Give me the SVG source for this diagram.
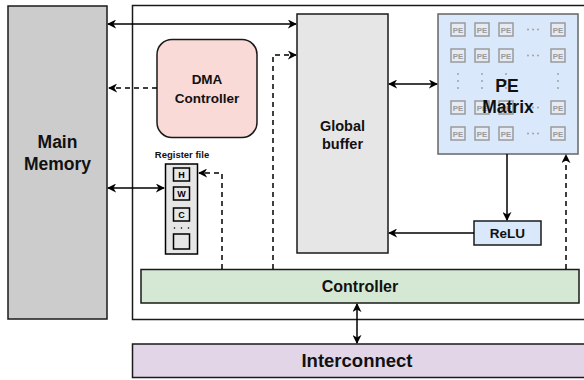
<svg xmlns="http://www.w3.org/2000/svg" width="584" height="380" viewBox="0 0 584 380">
  <defs>
    <marker id="arr" viewBox="0 0 10 10" refX="9" refY="5" markerWidth="9" markerHeight="9" markerUnits="userSpaceOnUse" orient="auto-start-reverse">
      <path d="M0,0 L10,5 L0,10 L3,5 Z" fill="#000"/>
    </marker>
    <style>
      .box { stroke: #1a1a1a; stroke-width: 1.5; }
      .lbl { font-family: "Liberation Sans", Arial, sans-serif; font-weight: bold; fill: #111; text-anchor: middle; }
      .wire { fill: none; stroke: #000; stroke-width: 1.5; }
      .dash { fill: none; stroke: #000; stroke-width: 1.5; stroke-dasharray: 5 4; }
      .pe rect { fill: #e4ebf5; stroke: #9a9a9a; stroke-width: 1.5; }
      .pe text { font-family: "Liberation Sans", Arial, sans-serif; font-weight: bold; font-size: 8px; fill: #9a9a9a; text-anchor: middle; }
      .dots { fill: #9a9a9a; }
      .reg rect { fill: #e6e6e6; stroke: #000; stroke-width: 1.5; }
      .reg text { font-family: "Liberation Sans", Arial, sans-serif; font-weight: bold; font-size: 9px; fill: #000; text-anchor: middle; }
    </style>
  </defs>
  <rect width="584" height="380" fill="#fff"/>

  <!-- accelerator enclosure -->
  <rect x="132.5" y="5.5" width="460" height="314" fill="#fff" class="box"/>

  <g id="main-memory">
    <rect x="8" y="6" width="99" height="313" fill="#cccccc" class="box"/>
    <text class="lbl" x="57.5" y="148" font-size="17.5">Main</text>
    <text class="lbl" x="57.5" y="170" font-size="17.5">Memory</text>
  </g>

  <g id="dma-controller">
    <rect x="157" y="39.5" width="100" height="98" rx="15" fill="#f9dad7" class="box"/>
    <text class="lbl" x="207" y="84" font-size="13.5">DMA</text>
    <text class="lbl" x="207" y="103" font-size="13.5">Controller</text>
  </g>

  <g id="global-buffer">
    <rect x="297" y="14" width="91" height="239" fill="#e6e6e6" class="box"/>
    <text class="lbl" x="342.5" y="131" font-size="14.5">Global</text>
    <text class="lbl" x="342.5" y="149" font-size="14.5">buffer</text>
  </g>

  <g id="pe-matrix">
    <rect x="438" y="14" width="140" height="140" fill="#dae8fc" stroke="#666" stroke-width="1.5"/>
    <g class="pe">
      <rect x="451" y="23" width="14" height="13"/><text x="458" y="32.5">PE</text>
      <rect x="475" y="23" width="14" height="13"/><text x="482" y="32.5">PE</text>
      <rect x="499" y="23" width="14" height="13"/><text x="506" y="32.5">PE</text>
      <rect x="551" y="23" width="14" height="13"/><text x="558" y="32.5">PE</text>
      <rect x="451" y="49" width="14" height="13"/><text x="458" y="58.5">PE</text>
      <rect x="475" y="49" width="14" height="13"/><text x="482" y="58.5">PE</text>
      <rect x="499" y="49" width="14" height="13"/><text x="506" y="58.5">PE</text>
      <rect x="551" y="49" width="14" height="13"/><text x="558" y="58.5">PE</text>
      <rect x="451" y="101" width="14" height="13"/><text x="458" y="110.5">PE</text>
      <rect x="475" y="101" width="14" height="13"/><text x="482" y="110.5">PE</text>
      <rect x="499" y="101" width="14" height="13"/><text x="506" y="110.5">PE</text>
      <rect x="551" y="101" width="14" height="13"/><text x="558" y="110.5">PE</text>
      <rect x="451" y="127" width="14" height="13"/><text x="458" y="136.5">PE</text>
      <rect x="475" y="127" width="14" height="13"/><text x="482" y="136.5">PE</text>
      <rect x="499" y="127" width="14" height="13"/><text x="506" y="136.5">PE</text>
      <rect x="551" y="127" width="14" height="13"/><text x="558" y="136.5">PE</text>
    </g>
    <!-- horizontal ellipses -->
    <g class="dots">
      <circle cx="528" cy="29.5" r="0.9"/><circle cx="533" cy="29.5" r="0.9"/><circle cx="538" cy="29.5" r="0.9"/>
      <circle cx="528" cy="55.5" r="0.9"/><circle cx="533" cy="55.5" r="0.9"/><circle cx="538" cy="55.5" r="0.9"/>
      <circle cx="528" cy="107.5" r="0.9"/><circle cx="533" cy="107.5" r="0.9"/><circle cx="538" cy="107.5" r="0.9"/>
      <circle cx="528" cy="133.5" r="0.9"/><circle cx="533" cy="133.5" r="0.9"/><circle cx="538" cy="133.5" r="0.9"/>
      <!-- vertical ellipses -->
      <circle cx="458" cy="74" r="0.9"/><circle cx="458" cy="81" r="0.9"/><circle cx="458" cy="88" r="0.9"/>
      <circle cx="482" cy="74" r="0.9"/><circle cx="482" cy="81" r="0.9"/><circle cx="482" cy="88" r="0.9"/>
      <circle cx="506" cy="74" r="0.9"/><circle cx="506" cy="81" r="0.9"/><circle cx="506" cy="88" r="0.9"/>
      <circle cx="558" cy="74" r="0.9"/><circle cx="558" cy="81" r="0.9"/><circle cx="558" cy="88" r="0.9"/>
    </g>
    <text class="lbl" x="507" y="92" font-size="17.5">PE</text>
    <text class="lbl" x="508" y="113" font-size="17.5">Matrix</text>
  </g>

  <g id="relu">
    <rect x="474" y="221" width="67" height="24" fill="#dae8fc" class="box"/>
    <text class="lbl" x="507.5" y="238" font-size="13.5">ReLU</text>
  </g>

  <g id="register-file">
    <text class="lbl" x="182" y="158" font-size="9.5">Register file</text>
    <g class="reg">
      <rect x="165.5" y="164" width="32" height="90" stroke-width="2.5"/>
      <rect x="173.5" y="168" width="16" height="13"/><text x="181.5" y="178">H</text>
      <rect x="173.5" y="187" width="16" height="13"/><text x="181.5" y="197">W</text>
      <rect x="173.5" y="208" width="16" height="13"/><text x="181.5" y="218">C</text>
      <rect x="173.5" y="234" width="16" height="15"/>
    </g>
    <g fill="#000">
      <circle cx="174.5" cy="228" r="0.8"/><circle cx="181.5" cy="228" r="0.8"/><circle cx="188.5" cy="228" r="0.8"/>
    </g>
  </g>

  <g id="controller">
    <rect x="141" y="269.5" width="438" height="33.5" fill="#d5e8d4" class="box"/>
    <text class="lbl" x="360" y="292" font-size="16">Controller</text>
  </g>

  <g id="interconnect">
    <rect x="132.5" y="344" width="460" height="33.5" fill="#e1d5e7" class="box"/>
    <text class="lbl" x="357" y="367" font-size="18.5">Interconnect</text>
  </g>

  <g id="connectors">
    <!-- memory <-> global buffer -->
    <line class="wire" x1="108" y1="24" x2="296" y2="24" marker-start="url(#arr)" marker-end="url(#arr)"/>
    <!-- DMA -> memory -->
    <line class="dash" x1="157" y1="88" x2="109" y2="88" marker-end="url(#arr)"/>
    <!-- memory <-> register file -->
    <line class="wire" x1="108" y1="188" x2="164" y2="188" marker-start="url(#arr)" marker-end="url(#arr)"/>
    <!-- controller -> register file -->
    <polyline class="dash" points="222,269 222,173 199,173" marker-end="url(#arr)"/>
    <!-- controller -> global buffer -->
    <polyline class="dash" points="273,269 273,55 296,55" marker-end="url(#arr)"/>
    <!-- global buffer <-> PE matrix -->
    <line class="wire" x1="389" y1="84" x2="437" y2="84" marker-start="url(#arr)" marker-end="url(#arr)"/>
    <!-- PE matrix -> ReLU -->
    <line class="wire" x1="507" y1="154" x2="507" y2="220" marker-end="url(#arr)"/>
    <!-- ReLU -> global buffer -->
    <line class="wire" x1="474" y1="233" x2="389" y2="233" marker-end="url(#arr)"/>
    <!-- controller -> PE matrix -->
    <line class="dash" x1="566" y1="269" x2="566" y2="155" marker-end="url(#arr)"/>
    <!-- controller <-> interconnect -->
    <line class="wire" x1="357" y1="304" x2="357" y2="343" marker-start="url(#arr)" marker-end="url(#arr)"/>
  </g>
</svg>
